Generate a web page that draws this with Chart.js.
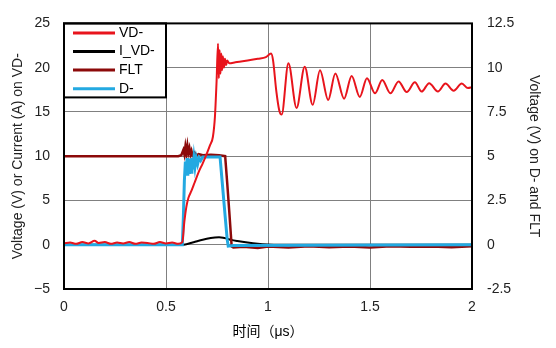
<!DOCTYPE html>
<html>
<head>
<meta charset="utf-8">
<script src="https://cdn.jsdelivr.net/npm/chart.js@4"></script>
<style>
  html, body { margin: 0; padding: 0; background: #fff; }
  canvas { display: block; }
</style>
</head>
<body>
<canvas id="scope" width="556" height="348"></canvas>
<script>
// VD- (left axis, V)
const vdT = [0, 0.03, 0.06, 0.09, 0.12, 0.15, 0.17, 0.2, 0.23, 0.26, 0.29, 0.32, 0.35, 0.38, 0.41, 0.44, 0.47, 0.5, 0.53, 0.56,
  0.58, 0.59, 0.6, 0.61, 0.625, 0.64, 0.66, 0.68, 0.7, 0.715, 0.73, 0.74, 0.748, 0.755, 0.759, 0.763, 0.767, 0.771, 0.775, 0.779,
  0.784, 0.789, 0.795, 0.8, 0.81, 0.84, 0.9, 0.95, 0.99, 1.015, 1.025, 1.04, 1.055, 1.067, 1.1, 1.14, 1.18, 1.219, 1.255,
  1.295, 1.33, 1.373, 1.41, 1.45, 1.485, 1.525, 1.56, 1.6, 1.64, 1.68, 1.72, 1.753, 1.79, 1.833, 1.87, 1.91, 1.95, 1.98, 2];
const vdV = [0.15, 0.25, 0.1, 0.3, 0.15, 0.45, 0.2, 0.3, 0.1, 0.25, 0.15, 0.3, 0.1, 0.25, 0.2, 0.1, 0.3, 0.15, 0.25, 0.1,
  0.3, 2.6, 4.3, 5.3, 6.1, 7.0, 8.2, 9.2, 10.3, 11.2, 12.2, 14.5, 18.5, 22.7, 18.8, 22.0, 19.3, 21.6, 19.7, 21.3,
  20.0, 21.0, 20.3, 20.8, 20.5, 20.6, 20.8, 21.0, 21.2, 21.6, 20.8, 17.5, 15.2, 14.7, 20.5, 15.45, 20.1, 15.8, 19.7,
  16.35, 19.35, 16.5, 19.06, 16.7, 18.8, 17.1, 18.6, 17.1, 18.45, 17.25, 18.35, 17.3, 18.25, 17.3, 18.2, 17.4, 18.2, 17.7, 17.8];

// I_VD- (left axis, A)
const ivdT = [0, 0.575, 0.6, 0.63, 0.66, 0.7, 0.74, 0.76, 0.78, 0.8, 0.82, 0.85, 0.9, 0.95, 1.0, 1.05, 2];
const ivdV = [0, 0, 0.06, 0.25, 0.45, 0.68, 0.82, 0.85, 0.8, 0.68, 0.55, 0.42, 0.25, 0.12, 0.04, 0, 0];

// FLT (right axis, V)
const fltT = [0, 0.56, 0.575, 0.585, 0.59, 0.595, 0.6, 0.605, 0.61, 0.615, 0.62, 0.625, 0.63, 0.64, 0.65, 0.66, 0.68, 0.72, 0.76,
  0.79, 0.8, 0.81, 0.822, 0.83, 0.88, 0.95, 1.0, 1.1, 1.2, 1.3, 1.4, 1.5, 1.6, 1.7, 1.8, 1.9, 2];
const fltV = [5.0, 5.0, 5.05, 5.35, 5.1, 5.55, 5.15, 5.6, 5.2, 5.45, 5.1, 5.3, 5.05, 5.2, 5.05, 5.12, 5.05, 5.08, 5.05,
  5.0, 3.5, 1.9, -0.1, -0.15, -0.12, -0.18, -0.1, -0.15, -0.08, -0.14, -0.1, -0.16, -0.08, -0.12, -0.1, -0.14, -0.08];

// D- (right axis, V)
const dT = [0, 0.58, 0.585, 0.59, 0.595, 0.6, 0.603, 0.607, 0.611, 0.615, 0.619, 0.623, 0.627, 0.632, 0.637, 0.642, 0.648,
  0.655, 0.662, 0.67, 0.68, 0.72, 0.765, 0.775, 0.79, 0.8, 0.805, 0.83, 2];
const dV = [0, 0, 1.5, 3.6, 4.7, 3.9, 4.9, 3.9, 4.85, 4.0, 4.85, 4.1, 4.9, 4.25, 4.9, 4.4, 4.9,
  4.55, 4.9, 4.75, 4.95, 4.95, 4.95, 3.6, 1.6, 0.3, -0.08, -0.05, 0];

const xTicks = [0, 0.5, 1, 1.5, 2];
const leftTicks = [-5, 0, 5, 10, 15, 20, 25];
const rightTicks = [-2.5, 0, 2.5, 5, 7.5, 10, 12.5];

const pts = (t, v) => t.map((x, i) => ({ x, y: v[i] }));
const FONT = "Arial, 'Liberation Sans', 'Noto Sans CJK SC', sans-serif";

// legend box drawn inside the plot, top-left corner, plus the black frame
const boxLegend = {
  id: 'boxLegend',
  afterDraw(chart) {
    const { ctx, chartArea: a } = chart;
    const x0 = a.left, y0 = a.top, w = 102, h = 74;
    ctx.save();
    ctx.fillStyle = '#fff';
    ctx.fillRect(x0, y0, w, h);
    ctx.strokeStyle = '#000';
    ctx.lineWidth = 2;
    ctx.strokeRect(x0, y0, w, h);
    ctx.font = '14px ' + FONT;
    ctx.textBaseline = 'middle';
    chart.data.datasets.forEach((ds, i) => {
      const y = y0 + 9.5 + i * 18.6;
      ctx.strokeStyle = ds.borderColor;
      ctx.lineWidth = 3;
      ctx.beginPath();
      ctx.moveTo(x0 + 9, y);
      ctx.lineTo(x0 + 51, y);
      ctx.stroke();
      ctx.fillStyle = '#000';
      ctx.fillText(ds.label, x0 + 55, y);
    });
    ctx.strokeStyle = '#000';
    ctx.lineWidth = 2;
    ctx.strokeRect(a.left, a.top, a.right - a.left, a.bottom - a.top);
    ctx.restore();
  }
};

new Chart(document.getElementById('scope'), {
  type: 'line',
  data: {
    datasets: [
      { label: 'VD-', data: pts(vdT, vdV), yAxisID: 'y', borderColor: '#e8141c', borderWidth: 2,
        cubicInterpolationMode: 'monotone', order: 0 },
      { label: 'I_VD-', data: pts(ivdT, ivdV), yAxisID: 'y', borderColor: '#000000', borderWidth: 2,
        cubicInterpolationMode: 'monotone', order: 3 },
      { label: 'FLT', data: pts(fltT, fltV), yAxisID: 'y2', borderColor: '#8c0a0a', borderWidth: 2.5,
        tension: 0, order: 2 },
      { label: 'D-', data: pts(dT, dV), yAxisID: 'y2', borderColor: '#23a9e1', borderWidth: 3,
        tension: 0, order: 1 },
    ],
  },
  options: {
    responsive: false,
    animation: false,
    events: [],
    layout: { padding: { top: 12, left: 0, right: 0, bottom: 0 } },
    elements: { point: { radius: 0 } },
    plugins: { legend: { display: false }, tooltip: { enabled: false } },
    scales: {
      x: {
        type: 'linear', min: 0, max: 2,
        afterBuildTicks: (s) => { s.ticks = xTicks.map((value) => ({ value })); },
        afterFit: (s) => { s.height = 59; },
        grid: { color: '#808080', lineWidth: 1, drawTicks: false },
        border: { display: false },
        ticks: { padding: 10, color: '#222', font: { family: FONT, size: 14 }, callback: (v) => String(v) },
        title: { display: true, text: '时间（μs）', color: '#000', font: { family: FONT, size: 14 },
          padding: { top: 0, bottom: 7 } },
      },
      y: {
        position: 'left', min: -5, max: 25,
        afterBuildTicks: (s) => { s.ticks = leftTicks.map((value) => ({ value })); },
        afterFit: (s) => { s.width = 64; },
        grid: { color: '#808080', lineWidth: 1, drawTicks: false },
        border: { display: false },
        ticks: { padding: 14, color: '#222', font: { family: FONT, size: 14 },
          callback: (v) => (v < 0 ? '\u2212' + (-v) : String(v)) },
        title: { display: true, text: 'Voltage (V) or Current (A) on VD-', color: '#222',
          font: { family: FONT, size: 14 }, padding: { top: 10, bottom: 0 } },
      },
      y2: {
        position: 'right', min: -2.5, max: 12.5,
        afterBuildTicks: (s) => { s.ticks = rightTicks.map((value) => ({ value })); },
        afterFit: (s) => { s.width = 84; },
        grid: { display: false, drawTicks: false },
        border: { display: false },
        ticks: { padding: 15, color: '#222', font: { family: FONT, size: 14 }, callback: (v) => String(v) },
        title: { display: true, text: 'Voltage (V) on D- and FLT', color: '#222',
          font: { family: FONT, size: 14 }, padding: { top: 14, bottom: 0 } },
      },
    },
  },
  plugins: [boxLegend],
});
</script>
</body>
</html>
